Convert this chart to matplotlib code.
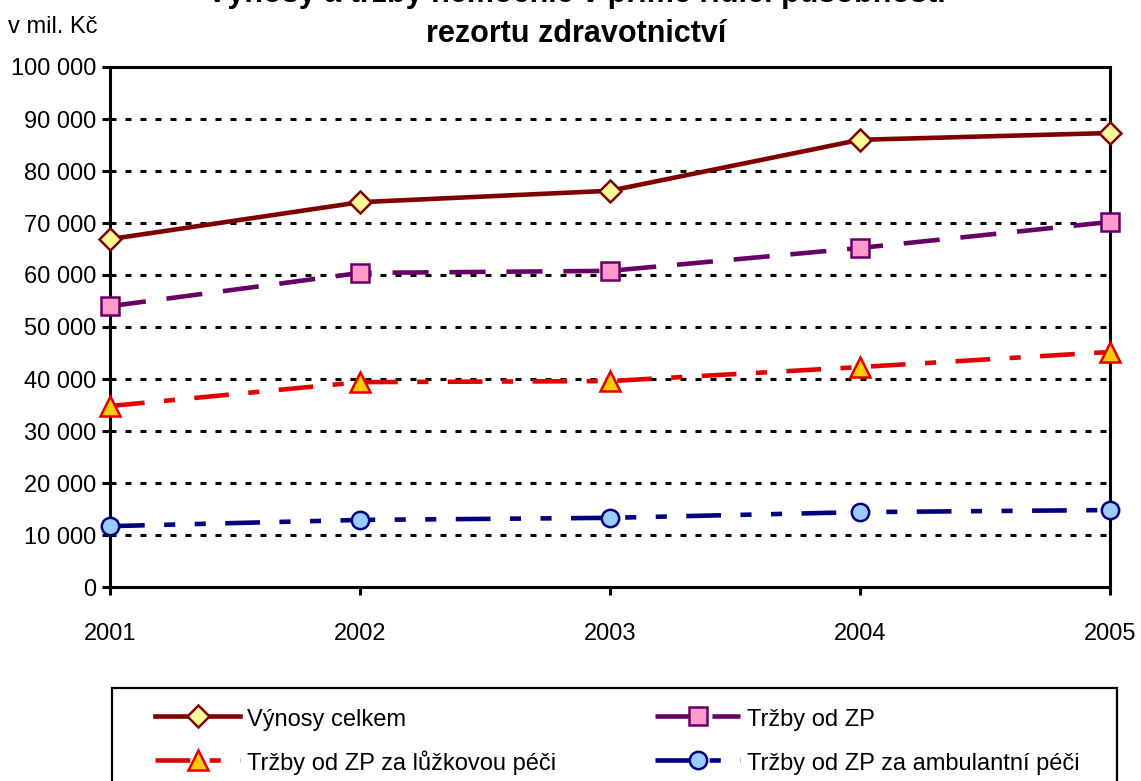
import matplotlib
matplotlib.use("Agg")
import matplotlib.pyplot as plt
from matplotlib.lines import Line2D
from matplotlib.patches import Rectangle
from matplotlib.ticker import FuncFormatter

plt.rcParams['font.family'] = ['Liberation Sans', 'DejaVu Sans']
plt.rcParams['lines.scale_dashes'] = False

# data (v mil. Kč)
roky = [2001, 2002, 2003, 2004, 2005]
vynosy_celkem = [66900, 74000, 76200, 86000, 87300]
trzby_zp = [54000, 60400, 60800, 65200, 70200]
trzby_luzkova = [34800, 39400, 39600, 42300, 45200]
trzby_ambulantni = [11700, 12900, 13300, 14400, 14800]

nazvy = ["Výnosy celkem", "Tržby od ZP",
         "Tržby od ZP za lůžkovou péči", "Tržby od ZP za ambulantní péči"]

W, H = 1141, 781
fig = plt.figure(figsize=(W / 100, H / 100), dpi=100)
ax = fig.add_axes([110 / W, 1 - 587 / H, 1000 / W, 520 / H])

# styly serii
styly = [
    dict(color='#800000', ls='-', marker='D', mfc='#FFFF99', mec='#800000', ms=11),
    dict(color='#660066', ls=(0, (26, 15)), marker='s', mfc='#FF99CC', mec='#660066', ms=12.5),
    dict(color='#E00000', ls=(0, (25, 14, 8, 14)), marker='^', mfc='#FFCC00', mec='#E00000', ms=14),
    dict(color='#000080', ls=(0, (25, 14, 8, 14, 8, 14)), marker='o', mfc='#99CCFF', mec='#000080', ms=12.5),
]
serie = [vynosy_celkem, trzby_zp, trzby_luzkova, trzby_ambulantni]

for hodnoty, st, nazev in zip(serie, styly, nazvy):
    ax.plot(roky, hodnoty, lw=3.3, mew=1.8, clip_on=False, zorder=5,
            label=nazev, **st)

ax.set_xlim(2001, 2005)
ax.set_ylim(0, 100000)
ax.set_yticks(range(0, 100001, 10000))
ax.set_xticks(roky)
ax.yaxis.set_major_formatter(FuncFormatter(lambda v, p: f"{int(v):,}".replace(",", " ")))

# mrizka - teckovana
for v in range(10000, 100000, 10000):
    ax.axhline(v, color='black', lw=2.2, ls=(0, (4.3, 6.5)), zorder=1)

for s in ax.spines.values():
    s.set_linewidth(2.2)
ax.tick_params(axis='both', direction='out', length=6, width=2.2, labelsize=17)
ax.tick_params(axis='x', pad=20)
ax.tick_params(axis='y', pad=4)

# nadpis - prvni radek je v originale orizly hornim okrajem
fig.text(576 / W, 1 - 2 / H, "Výnosy a tržby nemocnic v přímé řídící působnosti",
         ha='center', va='baseline', fontsize=22, fontweight='bold')
fig.text(576 / W, 1 - 42 / H, "rezortu zdravotnictví",
         ha='center', va='baseline', fontsize=22, fontweight='bold')
fig.text(8 / W, 1 - 27 / H, "v mil. Kč", ha='left', va='center', fontsize=17)

# legenda - ram je dole orizly
ram = Rectangle((112 / W, -0.1), (1117 - 112) / W, 1 - 688 / H + 0.1,
                transform=fig.transFigure, fill=False, ec='black', lw=1.6)
fig.add_artist(ram)

handles = [Line2D([], [], lw=3.3, mew=1.8, **st) for st in styly]
for i, x0 in enumerate([155, 655]):
    fig.legend(handles[i::2], nazvy[i::2], loc='upper left',
               bbox_to_anchor=(x0 / W, 1 - 706 / H), frameon=False, fontsize=17,
               handlelength=3.6, handleheight=1.2, handletextpad=0.3,
               labelspacing=0.8, borderpad=0, borderaxespad=0)

fig.savefig("out.png", dpi=100)
